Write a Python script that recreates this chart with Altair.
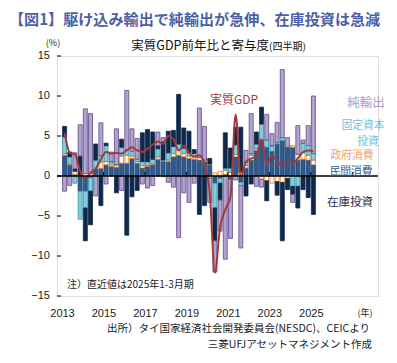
import altair as alt
import pandas as pd

# quarterly periods 2013Q1 .. 2025Q1
years = [2013 + i // 4 for i in range(49)]
qtrs = [i % 4 + 1 for i in range(49)]

# contributions (%pt)
pc = [2.6, 1.4, 0.2, -1.9, -1.9, -0.2, 0.9, 0.95, 1.4, 1.2, 1.1, 1.6, 1.6, 2.2, 1.6, 1.0,
      1.2, 1.4, 2.1, 1.8, 1.8, 2.4, 2.6, 2.4, 2.2, 2.1, 2.0, 1.8, 1.4, -0.9, -0.3, 0.2,
      -0.4, 2.4, -0.8, 1.0, 2.0, 3.2, 4.5, 3.6, 3.1, 4.0, 4.4, 3.6, 3.6, 2.0, 2.1, 2.0, 1.4]
gov = [0.2, 0.1, 0.4, 0.1, 0.3, 0.3, 0.1, 0.8, 0.4, 0.2, 0.3, 0.9, 1.0, 0.3, 0.2, 0.3,
       0.1, 0.1, 0.3, -0.1, 0.2, 0.4, 0.6, 0.4, 0.3, 0.3, 0.3, 0.2, 0.1, 0.4, 0.6, 0.5,
       0.5, 0.3, 0.5, 0.3, 0.6, 0.2, -0.4, -0.6, -0.9, -0.7, -0.8, -0.3, 0.2, 0.7, 0.8, 0.6, 0.6]
fc = [2.1, 0.9, -0.9, -3.5, -2.1, -1.7, 1.0, 0.8, 2.0, 0.4, 0.0, 1.1, 0.6, 0.6, 0.3, 0.5,
      0.5, 0.6, 1.0, 0.2, 0.9, 0.9, 0.8, 0.7, 0.4, 0.4, 0.0, 0.0, -0.3, -3.1, -0.6, 0.3,
      0.5, 1.2, -0.4, 0.4, 0.2, 0.6, 2.0, 0.9, 0.7, 0.2, 0.4, 0.0, -1.3, -1.3, 1.2, 1.2, 0.8]
inv = [1.3, 0.6, 0.3, 2.4, -4.1, -4.2, 2.0, -3.7, 0.3, 0.0, -2.1, 1.0, -7.4, -2.6, -1.8, 3.6,
       4.0, 3.4, 0.4, 2.3, 2.7, 2.0, 6.2, 2.5, 2.7, 0.5, -4.8, -3.7, 0.7, -4.1, -2.1, 4.4,
       2.5, 2.2, 5.6, -2.5, -1.0, 1.5, 2.1, -2.5, 0.0, -1.7, -7.3, -1.4, -1.0, -2.7, -1.7, -2.7, -4.8]
nx = [-1.9, -1.2, 2.0, 3.9, 8.1, 7.5, -2.5, 4.1, -1.0, 1.2, 4.5, -1.8, 7.5, 2.8, 2.6, -1.0,
      -1.5, -1.2, 1.7, 0.5, -0.8, -1.4, -7.7, -2.1, -3.3, -0.9, 6.2, 4.2, -3.0, -3.9, -3.9, -10.4,
      -7.4, -0.5, -7.8, 1.5, 5.0, -1.3, -1.0, 3.2, 1.5, 2.5, 8.5, 1.2, -1.0, 3.6, 0.4, 2.5, 7.2]
gdp = [5.4, 2.9, 2.7, 0.6, -0.4, 0.4, 0.9, 2.1, 3.0, 2.8, 2.9, 2.8, 3.2, 3.6, 3.2, 3.0,
       3.4, 3.9, 4.3, 4.0, 5.0, 4.6, 3.2, 3.8, 2.9, 2.4, 2.6, 1.5, -2.0, -12.1, -6.4, -4.2,
       -2.6, 7.7, -0.2, 1.8, 2.2, 2.5, 4.6, 1.4, 2.6, 1.8, 1.4, 1.7, 1.6, 2.2, 3.0, 3.2, 3.1]

series_names = ["民間消費", "政府消費", "固定資本投資", "在庫投資", "純輸出"]
series_vals = [pc, gov, fc, inv, nx]
fills = ["#2F5A8E", "#FFF8F0", "#86CCDC", "#10284A", "#B2A2CC"]
strokes = ["#1F3F6C", "#F07A10", "#2D93AA", "#10284A", "#5E4B88"]

x_labels = [2013, 2015, 2017, 2019, 2021, 2023, 2025]
y_ticks = [-15, -10, -5, 0, 5, 10, 15]
zero_ticks = [2015, 2017, 2019, 2021, 2023, 2025, 2027]

rows = []
for k, (name, vals) in enumerate(zip(series_names, series_vals)):
    for i, v in enumerate(vals):
        rows.append({"t": years[i] + (qtrs[i] - 0.5) / 4, "s": name, "v": v, "o": k})
bar_df = pd.DataFrame(rows)
gdp_df = pd.DataFrame({"t": [years[i] + (qtrs[i] - 0.5) / 4 for i in range(49)], "g": gdp})

JP = "Noto Sans CJK JP"
LAT = "Liberation Sans"
xscale = alt.Scale(domain=[2013, 2028], nice=False, zero=False)
yscale = alt.Scale(domain=[-15, 15], nice=False)

bars = alt.Chart(bar_df).mark_bar(size=4, strokeWidth=0.8, orient="vertical").encode(
    x=alt.X("t:Q", scale=xscale,
            axis=alt.Axis(values=x_labels, format="d", title=None, grid=False, ticks=False,
                          domain=False, labelFontSize=11, labelPadding=11, labelColor="#222",
                          labelFont=LAT, labelOverlap=False)),
    y=alt.Y("v:Q", stack="zero", scale=yscale,
            axis=alt.Axis(values=y_ticks, title=None, grid=False, ticks=False, domain=False,
                          labels=False)),
    fill=alt.Fill("s:N", scale=alt.Scale(domain=series_names, range=fills), legend=None),
    stroke=alt.Stroke("s:N", scale=alt.Scale(domain=series_names, range=strokes), legend=None),
    order=alt.Order("o:Q"),
)

line = alt.Chart(gdp_df).mark_line(color="#A23A3A", strokeWidth=2, interpolate="monotone").encode(
    x=alt.X("t:Q", scale=xscale), y=alt.Y("g:Q", scale=yscale))

zero = alt.Chart(pd.DataFrame({"z": [0]})).mark_rule(color="black", strokeWidth=1.5).encode(
    y=alt.Y("z:Q", scale=yscale))

zt = alt.Chart(pd.DataFrame({"x": zero_ticks})).mark_rule(color="black", strokeWidth=1).encode(
    x=alt.X("x:Q", scale=xscale), y=alt.datum(0), y2=alt.datum(0.5))

yt = alt.Chart(pd.DataFrame({"y": y_ticks})).mark_rule(color="black", strokeWidth=1).encode(
    y=alt.Y("y:Q", scale=yscale), x=alt.value(0), x2=alt.value(4))

ylab = alt.Chart(pd.DataFrame({"y": y_ticks})).mark_text(
    align="right", baseline="middle", fontSize=11, font=LAT, color="#222").encode(
    y=alt.Y("y:Q", scale=yscale), x=alt.value(-7), text=alt.Text("y:Q", format="d"))


def txt(s, x, y, size=12, color="#222", align="center", weight="normal", font=JP):
    return alt.Chart(pd.DataFrame({"s": [s]})).mark_text(
        align=align, baseline="middle", fontSize=size, color=color, fontWeight=weight, font=font
    ).encode(text="s:N", x=alt.value(x), y=alt.value(y))


texts = [
    txt("【図1】駆け込み輸出で純輸出が急伸、在庫投資は急減", -48, -36, 15.1, "#4D5FA6", "left", "bold"),
    txt("実質GDP前年比と寄与度", 212, -10, 12.5, "#111", "right"),
    txt("(四半期)", 212, -9, 10, "#111", "left"),
    txt("(%)", -4, -13, 9, "#222"),
    txt("実質GDP", 177, 44, 12, "#A23A3A"),
    txt("純輸出", 309, 47, 12.5, "#A898C8"),
    txt("固定資本", 306, 70, 10.8, "#6EC2D8"),
    txt("投資", 311, 86, 10.8, "#6EC2D8"),
    txt("政府消費", 295, 100, 10.8, "#F4A066"),
    txt("民間消費", 294, 116, 10.8, "#3A5A8C"),
    txt("在庫投資", 293, 147, 11.5, "#1E2C44"),
    txt("注）直近値は2025年1-3月期", 10, 229, 10, "#222", "left"),
    txt("(年)", 308, 257, 9, "#222"),
    txt("出所）タイ国家経済社会開発委員会(NESDC)、CEICより", 313, 273, 10.5, "#222", "right"),
    txt("三菱UFJアセットマネジメント作成", 315, 289, 10.5, "#222", "right"),
]

chart = alt.layer(bars, line, zero, zt, yt, ylab, *texts).properties(
    width=321, height=240,
    padding={"left": 49, "top": 48, "right": 11, "bottom": 59},
    autosize=alt.AutoSizeParams(type="none"),
).configure_view(stroke="black", strokeWidth=1.5).configure(background="white")

chart.save("out.html", embed_options={"renderer": "svg", "actions": False})
